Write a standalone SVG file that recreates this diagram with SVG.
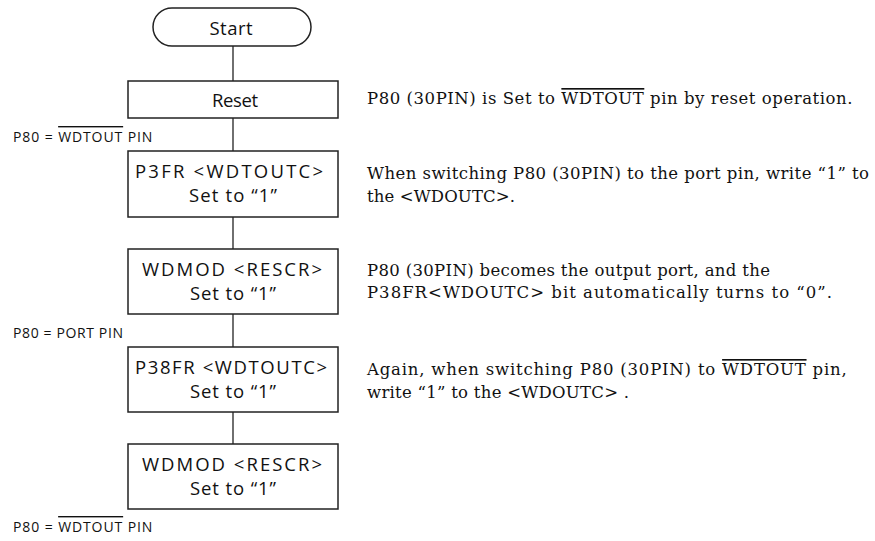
<svg xmlns="http://www.w3.org/2000/svg" width="875" height="541" viewBox="0 0 875 541">
<style>
.bg{fill:#ffffff}
.box{fill:#ffffff;stroke:#222222;stroke-width:1.5}
.conn{stroke:#333333;stroke-width:1.4;fill:none}
.bt{font-family:"Open Sans","Noto Sans","DejaVu Sans",sans-serif;font-size:18.5px;fill:#111111;text-anchor:middle}
.lbl{font-family:"Open Sans","Noto Sans","DejaVu Sans",sans-serif;font-size:14px;fill:#111111}
.note{font-family:"DejaVu Serif","Liberation Serif",serif;font-size:16.5px;fill:#111111}
.ov{text-decoration:overline}
</style>
<rect class="bg" x="0" y="0" width="875" height="541"/>
<g id="connectors">
<line class="conn" x1="233" y1="46" x2="233" y2="81"/>
<line class="conn" x1="233" y1="118" x2="233" y2="151"/>
<line class="conn" x1="233" y1="217" x2="233" y2="249"/>
<line class="conn" x1="233" y1="314" x2="233" y2="347"/>
<line class="conn" x1="233" y1="412" x2="233" y2="444"/>
</g>
<g id="start">
<rect class="box" x="153" y="8" width="158" height="38" rx="19" ry="19"/>
<text class="bt" x="231" y="34.5" textLength="43" lengthAdjust="spacing">Start</text>
</g>
<g id="reset">
<rect class="box" x="128" y="81" width="210" height="37"/>
<text class="bt" x="235" y="106.5" textLength="46" lengthAdjust="spacing">Reset</text>
</g>
<g id="p3fr">
<rect class="box" x="128" y="151" width="210" height="66"/>
<text class="bt" x="229" y="177.5" textLength="188" lengthAdjust="spacing">P3FR &lt;WDTOUTC&gt;</text>
<text class="bt" x="233" y="202" textLength="88" lengthAdjust="spacing">Set to “1”</text>
</g>
<g id="wdmod1">
<rect class="box" x="128" y="249" width="210" height="65"/>
<text class="bt" x="232" y="275.5" textLength="180" lengthAdjust="spacing">WDMOD &lt;RESCR&gt;</text>
<text class="bt" x="233" y="300" textLength="86" lengthAdjust="spacing">Set to “1”</text>
</g>
<g id="p38fr">
<rect class="box" x="128" y="347" width="210" height="65"/>
<text class="bt" x="231" y="373.5" textLength="192" lengthAdjust="spacing">P38FR &lt;WDTOUTC&gt;</text>
<text class="bt" x="233" y="398" textLength="86" lengthAdjust="spacing">Set to “1”</text>
</g>
<g id="wdmod2">
<rect class="box" x="128" y="444" width="210" height="65"/>
<text class="bt" x="232" y="470.5" textLength="180" lengthAdjust="spacing">WDMOD &lt;RESCR&gt;</text>
<text class="bt" x="233" y="495" textLength="86" lengthAdjust="spacing">Set to “1”</text>
</g>
<g id="labels">
<text class="lbl" x="13" y="142" letter-spacing="0.9">P80 = <tspan class="ov">WDTOUT</tspan> PIN</text>
<text class="lbl" x="13" y="338" textLength="110" lengthAdjust="spacing">P80 = PORT PIN</text>
<text class="lbl" x="13" y="532" letter-spacing="0.9">P80 = <tspan class="ov">WDTOUT</tspan> PIN</text>
</g>
<g id="notes">
<text class="note" x="367" y="104" letter-spacing="0.55">P80 (30PIN) is Set to <tspan class="ov">WDTOUT</tspan> pin by reset operation.</text>
<text class="note" x="367" y="179" textLength="502" lengthAdjust="spacing">When switching P80 (30PIN) to the port pin, write “1” to</text>
<text class="note" x="367" y="202" textLength="148" lengthAdjust="spacing">the &lt;WDOUTC&gt;.</text>
<text class="note" x="367" y="276" textLength="403" lengthAdjust="spacing">P80 (30PIN) becomes the output port, and the</text>
<text class="note" x="367" y="298" textLength="465" lengthAdjust="spacing">P38FR&lt;WDOUTC&gt; bit automatically turns to “0”.</text>
<text class="note" x="367" y="375" letter-spacing="0.8">Again, when switching P80 (30PIN) to <tspan class="ov">WDTOUT</tspan> pin,</text>
<text class="note" x="367" y="398" textLength="262" lengthAdjust="spacing">write “1” to the &lt;WDOUTC&gt; .</text>
</g>
</svg>
